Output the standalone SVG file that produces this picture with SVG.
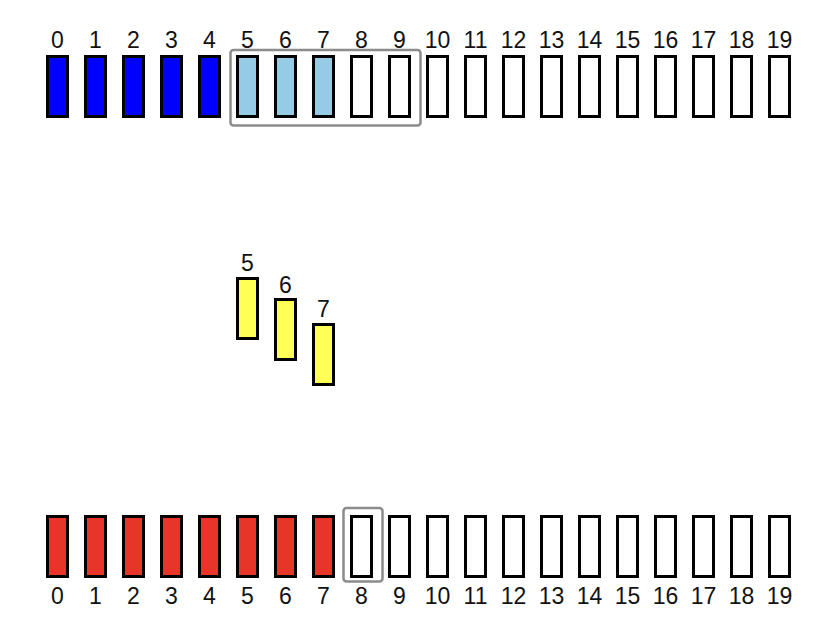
<svg xmlns="http://www.w3.org/2000/svg" width="834" height="620" viewBox="0 0 834 620">
<style>
.c{stroke:#000;stroke-width:3;fill:#fff}
.b{fill:#0000ff}
.lb{fill:#96cbe6}
.r{fill:#e8352a}
.y{fill:#ffff55}
.win{fill:none;stroke:#8c8c8c;stroke-width:2.5}
text{font-family:"Liberation Sans",Arial,sans-serif;font-size:23px;fill:#111;text-anchor:middle}
</style>
<rect width="834" height="620" fill="#fff"/>
<g id="top-row">
<rect class="c b" x="47.5" y="56.5" width="20" height="60"/>
<rect class="c b" x="85.5" y="56.5" width="20" height="60"/>
<rect class="c b" x="123.5" y="56.5" width="20" height="60"/>
<rect class="c b" x="161.5" y="56.5" width="20" height="60"/>
<rect class="c b" x="199.5" y="56.5" width="20" height="60"/>
<rect class="c lb" x="237.5" y="56.5" width="20" height="60"/>
<rect class="c lb" x="275.5" y="56.5" width="20" height="60"/>
<rect class="c lb" x="313.5" y="56.5" width="20" height="60"/>
<rect class="c" x="351.5" y="56.5" width="20" height="60"/>
<rect class="c" x="389.5" y="56.5" width="20" height="60"/>
<rect class="c" x="427.5" y="56.5" width="20" height="60"/>
<rect class="c" x="465.5" y="56.5" width="20" height="60"/>
<rect class="c" x="503.5" y="56.5" width="20" height="60"/>
<rect class="c" x="541.5" y="56.5" width="20" height="60"/>
<rect class="c" x="579.5" y="56.5" width="20" height="60"/>
<rect class="c" x="617.5" y="56.5" width="20" height="60"/>
<rect class="c" x="655.5" y="56.5" width="20" height="60"/>
<rect class="c" x="693.5" y="56.5" width="20" height="60"/>
<rect class="c" x="731.5" y="56.5" width="20" height="60"/>
<rect class="c" x="769.5" y="56.5" width="20" height="60"/>
<text x="57.5" y="48">0</text><text x="95.5" y="48">1</text><text x="133.5" y="48">2</text><text x="171.5" y="48">3</text><text x="209.5" y="48">4</text><text x="247.5" y="48">5</text><text x="285.5" y="48">6</text><text x="323.5" y="48">7</text><text x="361.5" y="48">8</text><text x="399.5" y="48">9</text><text x="437.5" y="48">10</text><text x="475.5" y="48">11</text><text x="513.5" y="48">12</text><text x="551.5" y="48">13</text><text x="589.5" y="48">14</text><text x="627.5" y="48">15</text><text x="665.5" y="48">16</text><text x="703.5" y="48">17</text><text x="741.5" y="48">18</text><text x="779.5" y="48">19</text>
<rect class="win" x="230.5" y="50" width="190" height="75.5" rx="3"/>
</g>
<g id="middle">
<rect class="c y" x="237.5" y="278.5" width="20" height="60"/>
<rect class="c y" x="275.5" y="299.5" width="20" height="60"/>
<rect class="c y" x="313.5" y="324.5" width="20" height="60"/>
<text x="247.5" y="271">5</text>
<text x="285.5" y="293">6</text>
<text x="323.5" y="317">7</text>
</g>
<g id="bottom-row">
<rect class="c r" x="47.5" y="516.5" width="20" height="60"/>
<rect class="c r" x="85.5" y="516.5" width="20" height="60"/>
<rect class="c r" x="123.5" y="516.5" width="20" height="60"/>
<rect class="c r" x="161.5" y="516.5" width="20" height="60"/>
<rect class="c r" x="199.5" y="516.5" width="20" height="60"/>
<rect class="c r" x="237.5" y="516.5" width="20" height="60"/>
<rect class="c r" x="275.5" y="516.5" width="20" height="60"/>
<rect class="c r" x="313.5" y="516.5" width="20" height="60"/>
<rect class="c" x="351.5" y="516.5" width="20" height="60"/>
<rect class="c" x="389.5" y="516.5" width="20" height="60"/>
<rect class="c" x="427.5" y="516.5" width="20" height="60"/>
<rect class="c" x="465.5" y="516.5" width="20" height="60"/>
<rect class="c" x="503.5" y="516.5" width="20" height="60"/>
<rect class="c" x="541.5" y="516.5" width="20" height="60"/>
<rect class="c" x="579.5" y="516.5" width="20" height="60"/>
<rect class="c" x="617.5" y="516.5" width="20" height="60"/>
<rect class="c" x="655.5" y="516.5" width="20" height="60"/>
<rect class="c" x="693.5" y="516.5" width="20" height="60"/>
<rect class="c" x="731.5" y="516.5" width="20" height="60"/>
<rect class="c" x="769.5" y="516.5" width="20" height="60"/>
<text x="57.5" y="604">0</text><text x="95.5" y="604">1</text><text x="133.5" y="604">2</text><text x="171.5" y="604">3</text><text x="209.5" y="604">4</text><text x="247.5" y="604">5</text><text x="285.5" y="604">6</text><text x="323.5" y="604">7</text><text x="361.5" y="604">8</text><text x="399.5" y="604">9</text><text x="437.5" y="604">10</text><text x="475.5" y="604">11</text><text x="513.5" y="604">12</text><text x="551.5" y="604">13</text><text x="589.5" y="604">14</text><text x="627.5" y="604">15</text><text x="665.5" y="604">16</text><text x="703.5" y="604">17</text><text x="741.5" y="604">18</text><text x="779.5" y="604">19</text>
<rect class="win" x="343.5" y="508" width="39" height="73.5" rx="3"/>
</g>
</svg>
